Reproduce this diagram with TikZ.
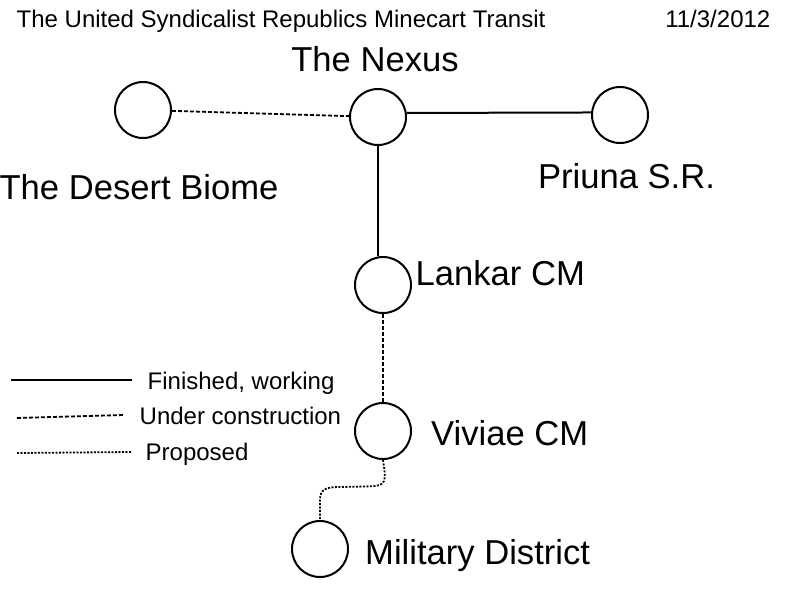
\documentclass[tikz,border=0pt]{standalone}
\usepackage{fontspec}
\setmainfont{Liberation Sans}
\tikzset{
station/.style={draw,circle,line width=2,minimum size=56,inner sep=0},
place/.style={font=\fontsize{34.6}{34.6}\selectfont,inner sep=0},
small/.style={font=\fontsize{24}{24}\selectfont,inner sep=0},
working/.style={line width=2},
building/.style={line width=1.8,dash pattern=on 4pt off 2pt},
proposed/.style={line width=1.8,dash pattern=on 2pt off 1.5pt}
}
\begin{document}
\begin{tikzpicture}[x=1pt,y=-1pt]
\useasboundingbox (0,0) rectangle (800,600);

\node[station] (desert) at (143,110) {};
\node[station] (nexus) at (378,117) {};
\node[station] (priuna) at (620,115) {};
\node[station] (lankar) at (383,285) {};
\node[station] (viviae) at (383,431) {};
\node[station] (military) at (320,549) {};

\node[small,anchor=west] (title) at (16.5,21) {The United Syndicalist Republics Minecart Transit};
\node[small,anchor=east] (date) at (770.5,19) {11/3/2012};
\node[place] (nexuslabel) at (375,59) {The Nexus};
\node[place] (desertlabel) at (139,187.5) {The Desert Biome};
\node[place] (priunalabel) at (626.5,176) {Priuna S.R.};
\node[place,anchor=west] (lankarlabel) at (415.5,273) {Lankar CM};
\node[place,anchor=west] (viviaelabel) at (431,433.5) {Viviae CM};
\node[place,anchor=west] (militarylabel) at (365,556) {Military District};

\draw[building] (desert) -- (nexus);
\draw[working] (nexus.8) -- (priuna.175);
\draw[working] (nexus.south) -- (nexus.south |- lankar.north);
\draw[building] (lankar) -- (viviae);
\draw[proposed] (viviae.south) .. controls (384,468) and (386,476) .. (384,481) .. controls (382,486) and (376,486) .. (365,486.5) -- (340,487) .. controls (326,487) and (320,489) .. (320,500) -- (military.north);

\coordinate (workingA) at (11,380);
\coordinate (workingB) at (132,380);
\coordinate (buildingA) at (17,418);
\coordinate (buildingB) at (123,415);
\coordinate (proposedA) at (17,453);
\coordinate (proposedB) at (132,452);
\draw[working] (workingA) -- (workingB);
\draw[building] (buildingA) -- (buildingB);
\draw[proposed] (proposedA) -- (proposedB);
\node[small,anchor=west] (workinglabel) at (147.5,383) {Finished, working};
\node[small,anchor=west] (buildinglabel) at (139.5,416) {Under construction};
\node[small,anchor=west] (proposedlabel) at (145.5,454) {Proposed};
\end{tikzpicture}
\end{document}
